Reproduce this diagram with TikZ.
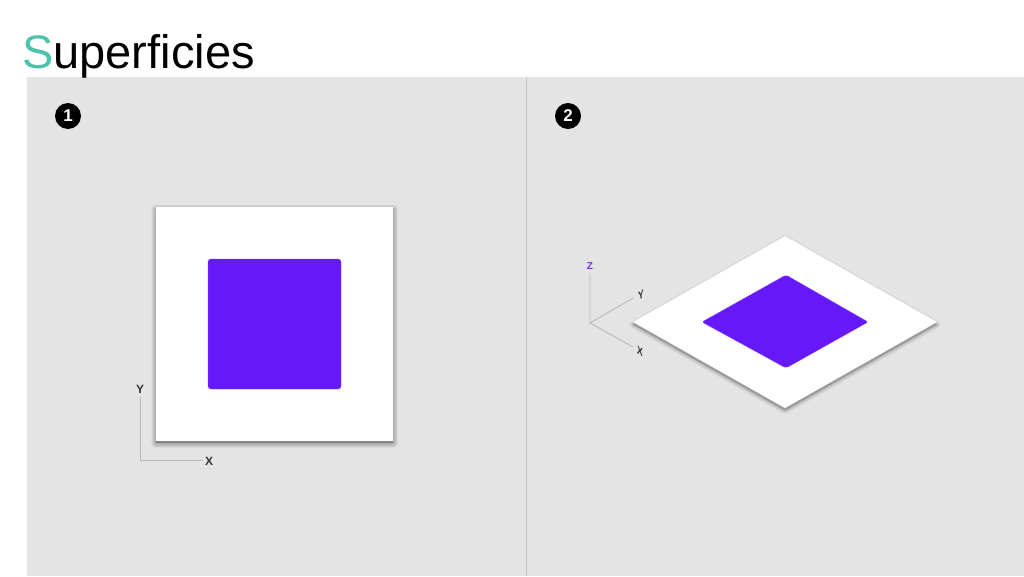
\documentclass[tikz,border=0pt]{standalone}
\usepackage{fontspec}
\setmainfont{Liberation Sans}
\definecolor{panelgrey}{HTML}{E4E4E4}
\definecolor{divgrey}{HTML}{C6C6C6}
\definecolor{teal}{HTML}{4DC3AC}
\definecolor{vio}{HTML}{6519F8}
\definecolor{axisgrey}{HTML}{B8B8B8}
\definecolor{labgrey}{HTML}{333333}
\definecolor{zpurple}{HTML}{6A35D6}
\tikzset{
  badge/.style={circle, fill=black, text=white, minimum size=26pt, inner sep=0pt, font=\bfseries\fontsize{17}{17}\selectfont},
  axisline/.style={draw=axisgrey, line width=0.9pt},
  axlab/.style={font=\bfseries\fontsize{12}{12}\selectfont, text=labgrey, inner sep=1pt},
  smlab/.style={font=\bfseries\fontsize{10}{10}\selectfont, text=labgrey, inner sep=1pt},
  shade1/.style={fill=black, draw=black, fill opacity=0.04, draw opacity=0.04, line join=round},
  chip/.style={fill=vio, draw=vio!80!white, line width=0.4pt},
}
\begin{document}
\begin{tikzpicture}[x=1pt,y=-1pt]
\useasboundingbox (0,0) rectangle (1024,576);
\fill[white] (0,0) rectangle (1024,576);
\fill[panelgrey] (27,77) rectangle (1024,576);
\coordinate (divtop) at (526,77);
\coordinate (divbot) at (526,576);
\draw[divgrey, line width=1pt] (divtop) -- (divbot);

\node[anchor=base west, inner sep=0pt, font=\fontsize{47}{47}\selectfont] (title) at (22,68) {\textcolor{teal}{S}uperficies};

\node[badge] (b1) at (68,116) {1};
\node[badge] (b2) at (568,116) {2};

% panel 1
\foreach \w in {1,2.5,4,5.5,7,8.5,10} {
  \path[shade1, line width=\w pt] (156,209.5) rectangle (393,443);
}
\fill[white] (156,207) rectangle (393,441);
\node[inner sep=0pt, minimum width=237pt, minimum height=234pt, anchor=north west] (sq1) at (156,207) {};
\path[chip, rounded corners=3pt] (208,259) rectangle (341,389);
\node[inner sep=0pt, minimum width=133pt, minimum height=130pt, anchor=north west] (chip1) at (208,259) {};

\node[axlab] (ylab) at (140,389) {Y};
\node[axlab] (xlab) at (209,461) {X};
\coordinate (o1) at (140,460);
\coordinate (ytop) at (140,397);
\coordinate (xend) at (203,460);
\draw[axisline] (ytop) -- (o1) -- (xend);

% panel 2
\foreach \w in {1,2.5,4,5.5,7} {
  \path[shade1, line width=\w pt] (785,238.5) -- (937,324.5) -- (785,410.5) -- (633,324.5) -- cycle;
}
\fill[white] (785,236) -- (937,322) -- (785,408) -- (633,322) -- cycle;
\coordinate (dtop) at (785,236);
\coordinate (dright) at (937,322);
\coordinate (dbot) at (785,408);
\coordinate (dleft) at (633,322);
\path[chip, rounded corners=2pt] (786,275) -- (868,322) -- (786,368) -- (702,322) -- cycle;

\coordinate (o2) at (590,323);
\coordinate (zend) at (590,273);
\coordinate (yend) at (633,298);
\coordinate (xend2) at (633,347);
\node[smlab, text=zpurple] (zlab) at (590,266) {Z};
\node[smlab, rotate=30, xslant=0.5] (ylab2) at (641,295) {Y};
\node[smlab, rotate=-30, xslant=-0.5] (xlab2) at (640,351) {X};
\draw[axisline] (zend) -- (o2) -- (yend);
\draw[axisline] (o2) -- (xend2);
\end{tikzpicture}
\end{document}
